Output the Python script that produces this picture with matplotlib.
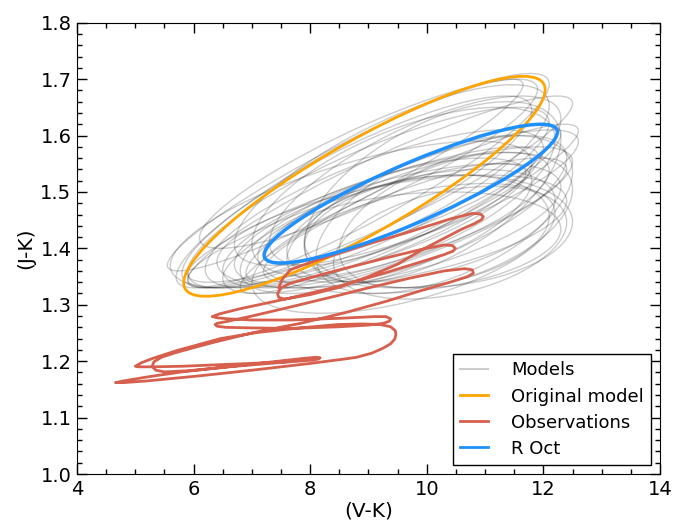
import numpy as np
import matplotlib
matplotlib.use("Agg")
import matplotlib.pyplot as plt
from matplotlib.patches import Circle
from matplotlib.lines import Line2D
from matplotlib.transforms import Affine2D
from matplotlib.ticker import MultipleLocator

# model loops: centre, half-amplitude in (V-K) and (J-K), phase lag of (J-K)
model_vk_mid = [8.9, 8.8, 9.0, 9.1, 8.7, 9.3, 9.5, 9.4, 9.8, 9.6, 10.0, 9.9, 10.0, 9.7, 10.2, 9.2,
                8.6, 9.0, 9.4, 9.6, 10.3, 10.5, 9.9, 9.5, 8.9, 9.3, 10.1, 9.8, 8.8, 10.4, 9.6, 9.7]
model_vk_amp = [3.2, 3.0, 3.1, 2.9, 3.1, 2.8, 2.8, 3.0, 2.6, 2.7, 2.4, 2.3, 2.1, 2.6, 2.3, 3.3,
                3.05, 2.9, 2.7, 2.6, 2.2, 2.0, 2.7, 3.0, 3.0, 2.5, 2.2, 2.5, 2.9, 2.0, 2.6, 2.9]
model_jk_mid = [1.52, 1.50, 1.49, 1.47, 1.46, 1.45, 1.44, 1.43, 1.45, 1.48, 1.47, 1.44, 1.43, 1.41, 1.43, 1.50,
                1.53, 1.55, 1.53, 1.50, 1.46, 1.45, 1.49, 1.45, 1.46, 1.44, 1.50, 1.52, 1.44, 1.41, 1.40, 1.47]
model_jk_amp = [0.19, 0.17, 0.16, 0.14, 0.13, 0.12, 0.11, 0.10, 0.11, 0.14, 0.13, 0.10, 0.10, 0.09, 0.10, 0.17,
                0.17, 0.15, 0.16, 0.15, 0.14, 0.12, 0.12, 0.13, 0.12, 0.12, 0.16, 0.15, 0.11, 0.10, 0.115, 0.15]
model_lag = [0.45, 0.55, 0.6, 0.7, 0.8, 0.75, 0.9, 1.0, 0.6, 0.5, 0.8, 1.1, 1.3, 1.3, 1.4, 0.4,
             0.35, 0.5, 0.7, 0.9, 1.0, 1.1, 0.6, 0.65, 0.5, 0.85, 0.95, 0.75, 0.55, 1.2, 1.0, 0.4]

# original model and R Oct loops (same parameters)
orig_loop = [8.93, 3.1, 1.51, 0.195, 0.5]
roct_loop = [9.725, 2.515, 1.497, 0.123, 0.48]

obs_vk = [7.6, 7.2, 6.5, 5.8, 5.3, 5.05, 5.0,
          5.1, 5.3, 5.72, 6.46, 7.1, 7.83, 8.48, 8.9, 9.2, 9.38, 9.46, 9.47,
          9.45, 9.38, 9.25, 9.05, 8.8, 8.6, 8.0, 7.0, 6.1, 5.2, 4.8, 4.66,
          4.8, 5.2, 5.8, 6.6, 7.3, 7.8, 8.05, 8.15, 8.17,
          8.1, 7.8, 7.2, 6.5, 5.9, 5.5, 5.35, 5.29,
          5.32, 5.45, 5.72, 6.29, 7.0, 7.83, 8.6, 9.3, 9.9, 10.4, 10.7, 10.8, 10.78, 10.65,
          10.3, 9.7, 9.0, 8.5, 7.66, 7.0, 6.6, 6.4, 6.37, 6.4, 6.55,
          7.0, 7.66, 8.5, 9.0, 9.25, 9.36, 9.38, 9.3, 9.1,
          8.5, 7.66, 7.0, 6.6, 6.4, 6.32,
          6.45, 6.8, 7.66, 8.5, 9.3, 9.9, 10.3, 10.45, 10.49, 10.44, 10.3,
          9.9, 9.3, 8.5, 8.0, 7.66, 7.5, 7.44, 7.46, 7.56,
          8.0, 8.5, 9.0, 9.5, 9.91, 10.3, 10.6, 10.82, 10.94, 10.97, 10.92, 10.78,
          10.4, 9.63, 9.0, 8.48, 8.0, 7.66, 7.52, 7.46]
obs_jk = [1.199, 1.197, 1.194, 1.191, 1.190, 1.190, 1.191,
          1.197, 1.205, 1.219, 1.240, 1.251, 1.259, 1.265, 1.266, 1.265, 1.261, 1.254, 1.247,
          1.239, 1.231, 1.223, 1.214, 1.207, 1.204, 1.196, 1.184, 1.174, 1.165, 1.162, 1.162,
          1.165, 1.172, 1.181, 1.190, 1.196, 1.200, 1.202, 1.204, 1.206,
          1.207, 1.204, 1.197, 1.189, 1.183, 1.181, 1.184, 1.191,
          1.199, 1.207, 1.216, 1.232, 1.250, 1.267, 1.286, 1.306, 1.325, 1.340, 1.350, 1.356, 1.362, 1.364,
          1.360, 1.347, 1.330, 1.317, 1.296, 1.280, 1.271, 1.267, 1.265, 1.262, 1.260,
          1.259, 1.258, 1.261, 1.264, 1.267, 1.271, 1.275, 1.279, 1.279,
          1.276, 1.273, 1.273, 1.275, 1.277, 1.279,
          1.284, 1.293, 1.312, 1.333, 1.357, 1.376, 1.389, 1.395, 1.400, 1.405, 1.406,
          1.398, 1.383, 1.362, 1.348, 1.338, 1.330, 1.320, 1.313, 1.310,
          1.318, 1.331, 1.350, 1.372, 1.397, 1.418, 1.434, 1.444, 1.451, 1.456, 1.461, 1.462,
          1.452, 1.427, 1.408, 1.391, 1.375, 1.362, 1.345, 1.330]

c_model = 'k'
c_orig = '#ffa500'
c_obs = '#d6604d'
c_roct = '#1e90ff'


def loop(ax, xm, xa, ym, ya, lag, **kw):
    # unit circle mapped onto the colour-colour loop
    tr = Affine2D(np.array([[xa, 0, xm],
                            [ya * np.cos(lag), ya * np.sin(lag), ym],
                            [0, 0, 1]]))
    p = Circle((0, 0), 1, fill=False, transform=tr + ax.transData, **kw)
    ax.add_patch(p)


fig = plt.figure(figsize=(6.76, 5.24), dpi=100)
ax = fig.add_axes([0.1139, 0.0954, 0.8624, 0.8613])

for i in range(len(model_vk_mid)):
    loop(ax, model_vk_mid[i], model_vk_amp[i], model_jk_mid[i], model_jk_amp[i], model_lag[i],
         edgecolor=c_model, alpha=0.2, lw=1)
loop(ax, *orig_loop, edgecolor=c_orig, lw=2, zorder=3)
ax.plot(obs_vk, obs_jk, color=c_obs, lw=2, zorder=3, solid_joinstyle='round',
        solid_capstyle='round')
loop(ax, *roct_loop, edgecolor=c_roct, lw=2.5, zorder=4)

ax.set_xlim(4, 14)
ax.set_ylim(1.0, 1.8)
ax.xaxis.set_major_locator(MultipleLocator(2))
ax.xaxis.set_minor_locator(MultipleLocator(0.5))
ax.yaxis.set_major_locator(MultipleLocator(0.1))
ax.yaxis.set_minor_locator(MultipleLocator(0.02))
ax.tick_params(which='both', direction='in', top=True, right=True, labelsize=14, pad=4)
ax.tick_params(which='major', length=7, width=1)
ax.tick_params(which='minor', length=3.5, width=1)
ax.set_xlabel('(V-K)', fontsize=14.5, labelpad=2)
ax.set_ylabel('(J-K)', fontsize=14.5, labelpad=4)

handles = [Line2D([], [], color=c_model, alpha=0.2, lw=1.5),
           Line2D([], [], color=c_orig, lw=2),
           Line2D([], [], color=c_obs, lw=2),
           Line2D([], [], color=c_roct, lw=2)]
leg = ax.legend(handles, ['Models', 'Original model', 'Observations', 'R Oct'],
                loc='lower right', fontsize=13, fancybox=False, framealpha=1,
                edgecolor='k', handlelength=1.5, handletextpad=1.3, labelspacing=0.45,
                borderpad=0.4)
leg.get_frame().set_linewidth(1)

fig.savefig('out.png', dpi=100)
